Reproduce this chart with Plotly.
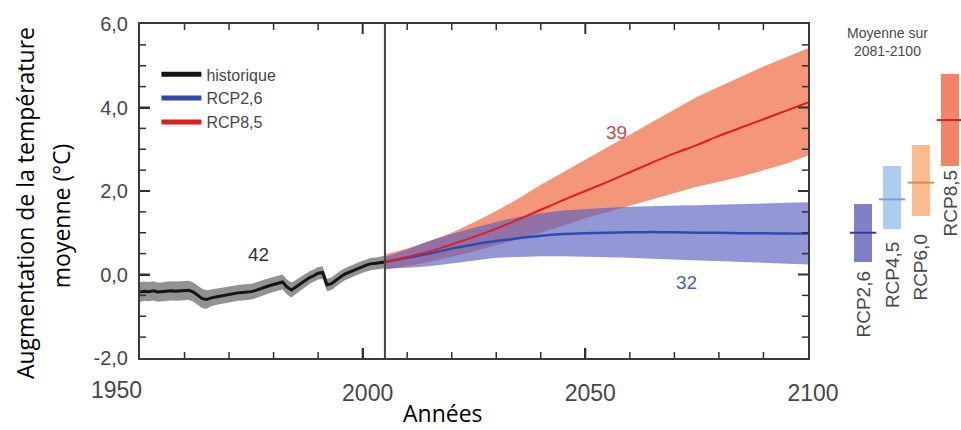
import plotly.graph_objects as go

# ---------------- data ----------------
hist_years = list(range(1950, 2006))
hist_mean = [-0.42, -0.40, -0.41, -0.39, -0.42, -0.41, -0.40, -0.39, -0.40, -0.39,
             -0.39, -0.38, -0.42, -0.50, -0.58, -0.60, -0.56, -0.54, -0.52, -0.49,
             -0.47, -0.46, -0.44, -0.43, -0.42, -0.41, -0.38, -0.34, -0.30, -0.27,
             -0.24, -0.21, -0.18, -0.30, -0.37, -0.30, -0.22, -0.15, -0.08, -0.03,
             0.03, 0.05, -0.25, -0.22, -0.13, -0.06, 0.01, 0.06, 0.10, 0.15,
             0.19, 0.23, 0.26, 0.27, 0.28, 0.30]
hist_hi = [-0.18, -0.17, -0.18, -0.16, -0.19, -0.19, -0.17, -0.16, -0.17, -0.16,
           -0.16, -0.15, -0.19, -0.27, -0.35, -0.38, -0.36, -0.35, -0.33, -0.30,
           -0.28, -0.27, -0.25, -0.24, -0.23, -0.22, -0.19, -0.15, -0.12, -0.09,
           -0.06, -0.03, 0.00, -0.12, -0.19, -0.13, -0.06, 0.01, 0.07, 0.12,
           0.18, 0.20, -0.10, -0.07, 0.02, 0.09, 0.15, 0.20, 0.24, 0.29,
           0.33, 0.37, 0.40, 0.41, 0.43, 0.45]
hist_lo = [-0.66, -0.63, -0.64, -0.62, -0.65, -0.64, -0.63, -0.62, -0.63, -0.62,
           -0.62, -0.61, -0.65, -0.73, -0.81, -0.82, -0.76, -0.73, -0.71, -0.68,
           -0.66, -0.65, -0.63, -0.62, -0.61, -0.60, -0.57, -0.53, -0.48, -0.45,
           -0.42, -0.39, -0.36, -0.48, -0.55, -0.47, -0.38, -0.31, -0.23, -0.18,
           -0.12, -0.10, -0.40, -0.37, -0.28, -0.21, -0.14, -0.09, -0.05, 0.00,
           0.04, 0.08, 0.11, 0.12, 0.14, 0.15]

fut_years = [2005, 2010, 2015, 2020, 2025, 2030, 2035, 2040, 2045, 2050,
             2055, 2060, 2065, 2070, 2075, 2080, 2085, 2090, 2095, 2100]
rcp26_mean = [0.30, 0.40, 0.50, 0.62, 0.72, 0.80, 0.87, 0.93, 0.97, 0.99,
              1.00, 1.01, 1.02, 1.01, 1.00, 1.00, 0.99, 0.99, 0.98, 0.98]
rcp26_hi = [0.42, 0.60, 0.80, 0.97, 1.12, 1.26, 1.38, 1.47, 1.53, 1.57,
            1.60, 1.62, 1.64, 1.65, 1.66, 1.67, 1.68, 1.70, 1.72, 1.73]
rcp26_lo = [0.14, 0.16, 0.20, 0.27, 0.34, 0.40, 0.42, 0.44, 0.44, 0.43,
            0.41, 0.40, 0.38, 0.36, 0.34, 0.32, 0.30, 0.27, 0.25, 0.24]
rcp85_mean = [0.30, 0.42, 0.55, 0.72, 0.90, 1.10, 1.32, 1.55, 1.78, 2.00,
              2.22, 2.45, 2.68, 2.90, 3.10, 3.32, 3.52, 3.72, 3.92, 4.12]
rcp85_hi = [0.48, 0.62, 0.80, 1.00, 1.25, 1.52, 1.82, 2.15, 2.45, 2.75,
            3.05, 3.35, 3.65, 3.95, 4.25, 4.50, 4.75, 4.98, 5.20, 5.42]
rcp85_lo = [0.12, 0.20, 0.30, 0.42, 0.55, 0.70, 0.85, 1.00, 1.17, 1.35,
            1.50, 1.65, 1.80, 1.95, 2.10, 2.22, 2.35, 2.50, 2.65, 2.85]

scen_names = ["RCP2,6", "RCP4,5", "RCP6,0", "RCP8,5"]
scen_mean = [1.0, 1.8, 2.2, 3.7]
scen_lo = [0.3, 1.1, 1.4, 2.6]
scen_hi = [1.7, 2.6, 3.1, 4.8]

model_counts = {"historique": 42, "RCP2,6": 32, "RCP8,5": 39}
base_year = 2005

# axis ranges / tick steps
X_RANGE = [1950, 2100]
Y_RANGE = [-2, 6]
X_MAJOR, X_MINOR = 50, 10
Y_MAJOR, Y_MINOR = 2, 0.5

# tick labels (y uses a French decimal comma and an ASCII minus as in the reference)
y_label_alias = {"\u22122,0": "-2,0"}
x_first_label = "1950"

# ---------------- styles ----------------
TICK_FONT = "Liberation Sans, Arial, sans-serif"
TITLE_FONT = "Open Sans, sans-serif"
GREY_TXT = "#474747"
FRAME = "#3a3a3a"
TICKC = "#303030"

bar_fill = ["rgb(128,128,200)", "rgb(172,204,240)", "rgb(250,188,142)", "rgb(245,132,102)"]
bar_mean_col = ["rgb(60,60,150)", "rgb(120,160,215)", "rgb(220,140,70)", "rgb(210,35,30)"]

fig = go.Figure()

# bands
fig.add_trace(go.Scatter(x=hist_years, y=hist_lo, mode="lines", line=dict(width=0),
                         showlegend=False, hoverinfo="skip"))
fig.add_trace(go.Scatter(x=hist_years, y=hist_hi, mode="lines", line=dict(width=0),
                         fill="tonexty", fillcolor="rgba(110,110,110,0.75)",
                         showlegend=False, hoverinfo="skip"))
fig.add_trace(go.Scatter(x=fut_years, y=rcp85_lo, mode="lines", line=dict(width=0),
                         showlegend=False, hoverinfo="skip"))
fig.add_trace(go.Scatter(x=fut_years, y=rcp85_hi, mode="lines", line=dict(width=0),
                         fill="tonexty", fillcolor="rgba(240,110,70,0.72)",
                         showlegend=False, hoverinfo="skip"))
fig.add_trace(go.Scatter(x=fut_years, y=rcp26_lo, mode="lines", line=dict(width=0),
                         showlegend=False, hoverinfo="skip"))
fig.add_trace(go.Scatter(x=fut_years, y=rcp26_hi, mode="lines", line=dict(width=0),
                         fill="tonexty", fillcolor="rgba(90,95,190,0.65)",
                         showlegend=False, hoverinfo="skip"))

# lines
HIST_COL = "#151515"
R26_COL = "rgb(45,75,175)"
R85_COL = "rgb(225,30,30)"
fig.add_trace(go.Scatter(x=hist_years, y=hist_mean, mode="lines", showlegend=False,
                         line=dict(color=HIST_COL, width=3)))
fig.add_trace(go.Scatter(x=fut_years, y=rcp26_mean, mode="lines", showlegend=False,
                         line=dict(color=R26_COL, width=2.5, shape="spline")))
fig.add_trace(go.Scatter(x=fut_years, y=rcp85_mean, mode="lines", showlegend=False,
                         line=dict(color=R85_COL, width=2, shape="spline")))

# legend entries (thick swatches as in the reference)
for nm, col in [("historique", HIST_COL), ("RCP2,6", R26_COL), ("RCP8,5", R85_COL)]:
    fig.add_trace(go.Scatter(x=[None], y=[None], mode="lines", name=nm,
                             line=dict(color=col, width=5)))

# right panel: 2081-2100 means
fig.add_trace(go.Bar(x=scen_names, y=[h - l for h, l in zip(scen_hi, scen_lo)], base=scen_lo,
                     width=0.65, marker=dict(color=bar_fill, line=dict(width=0)),
                     xaxis="x2", yaxis="y2", showlegend=False, hoverinfo="skip"))
fig.add_trace(go.Scatter(x=scen_names, y=scen_mean, mode="markers",
                         marker=dict(symbol="line-ew", size=19,
                                     line=dict(width=2, color=bar_mean_col)),
                         xaxis="x2", yaxis="y2", showlegend=False, hoverinfo="skip"))

fig.add_vline(x=base_year, line=dict(color="#444444", width=2))

# inside tick marks on all four sides (derived from the axis ranges and steps)
PLOT_W, PLOT_H = 668.0, 334.0
MAJ_LEN, MIN_LEN = 10.0, 6.0
nx = int(round((X_RANGE[1] - X_RANGE[0]) / X_MINOR))
for i in range(1, nx):
    v = X_RANGE[0] + i * X_MINOR
    major = (v - X_RANGE[0]) % X_MAJOR == 0
    f = (MAJ_LEN if major else MIN_LEN) / PLOT_H
    w = 2 if major else 1.5
    for y0, y1 in [(0, f), (1, 1 - f)]:
        fig.add_shape(type="line", xref="x", yref="y domain", x0=v, x1=v, y0=y0, y1=y1,
                      line=dict(color=TICKC, width=w), layer="above")
ny = int(round((Y_RANGE[1] - Y_RANGE[0]) / Y_MINOR))
for i in range(1, ny):
    v = Y_RANGE[0] + i * Y_MINOR
    major = abs(((v - Y_RANGE[0]) / Y_MAJOR) - round((v - Y_RANGE[0]) / Y_MAJOR)) < 1e-9
    f = (MAJ_LEN if major else MIN_LEN) / PLOT_W
    w = 2 if major else 1.5
    for x0, x1 in [(0, f), (1, 1 - f)]:
        fig.add_shape(type="line", xref="x domain", yref="y", x0=x0, x1=x1, y0=v, y1=v,
                      line=dict(color=TICKC, width=w), layer="above")

annotations = []
# first x tick label sits left of its tick in the reference
annotations.append(dict(x=1950, y=-0.0958, xref="x", yref="paper", text=x_first_label,
                        xshift=-24, showarrow=False, xanchor="center", yanchor="middle",
                        font=dict(family=TICK_FONT, size=23, color=GREY_TXT)))
# model counts
annotations.append(dict(x=1976.5, y=0.48, xref="x", yref="y", text=str(model_counts["historique"]),
                        showarrow=False, font=dict(family=TICK_FONT, size=19, color="#333333")))
annotations.append(dict(x=2057.1, y=3.40, xref="x", yref="y", text=str(model_counts["RCP8,5"]),
                        showarrow=False, font=dict(family=TICK_FONT, size=19, color="rgb(205,70,70)")))
annotations.append(dict(x=2072.8, y=-0.19, xref="x", yref="y", text=str(model_counts["RCP2,6"]),
                        showarrow=False, font=dict(family=TICK_FONT, size=19, color="rgb(75,95,170)")))
# scenario labels under bars
label_shift = [-7, -11, -16, -2]
for name, lo, sh in zip(scen_names, scen_lo, label_shift):
    annotations.append(dict(x=name, y=lo, xref="x2", yref="y2", text=name, textangle=-90,
                            showarrow=False, xanchor="center", yanchor="top", yshift=sh,
                            font=dict(family=TICK_FONT, size=19, color=GREY_TXT)))
# right panel title
annotations.append(dict(x=0.911, y=0.946, xref="paper", yref="paper",
                        text="Moyenne sur<br>2081-2100", showarrow=False,
                        xanchor="center", yanchor="middle",
                        font=dict(family=TICK_FONT, size=14, color=GREY_TXT)))
# axis titles
annotations.append(dict(x=-0.140, y=0.464, xref="paper", yref="paper",
                        text="Augmentation de la température", textangle=-90,
                        showarrow=False, xanchor="center", yanchor="middle",
                        font=dict(family=TITLE_FONT, size=23, color="#000000")))
annotations.append(dict(x=-0.096, y=0.425, xref="paper", yref="paper",
                        text="moyenne (°C)", textangle=-90,
                        showarrow=False, xanchor="center", yanchor="middle",
                        font=dict(family=TITLE_FONT, size=23, color="#000000")))
annotations.append(dict(x=0.369, y=-0.166, xref="paper", yref="paper",
                        text="Années", showarrow=False, xanchor="center", yanchor="middle",
                        font=dict(family=TITLE_FONT, size=23, color="#000000")))

fig.update_layout(
    width=961, height=430, autosize=False,
    margin=dict(l=140, r=0, t=24, b=72, pad=0, autoexpand=False),
    paper_bgcolor="white", plot_bgcolor="white",
    separators=",.",
    annotations=annotations,
    legend=dict(x=0.02, y=0.90, xanchor="left", yanchor="top", traceorder="normal",
                bgcolor="rgba(0,0,0,0)", font=dict(family=TICK_FONT, size=16, color=GREY_TXT),
                tracegroupgap=0, itemwidth=40),
    xaxis=dict(domain=[0, 0.8136], range=X_RANGE,
               tickmode="linear", tick0=X_RANGE[0], dtick=X_MAJOR, tickformat="d",
               labelalias={x_first_label: " "},
               ticks="inside", ticklen=10, tickwidth=2, tickcolor=TICKC,
               showline=True, linecolor=FRAME, linewidth=2, mirror=True,
               showgrid=False, zeroline=False,
               tickfont=dict(family=TICK_FONT, size=23, color=GREY_TXT),
               ticklabelstandoff=13, ticklabelshift=5),
    yaxis=dict(range=Y_RANGE, tickmode="linear", tick0=0, dtick=Y_MAJOR, tickformat=".1f",
               labelalias=y_label_alias,
               ticks="inside", ticklen=10, tickwidth=2, tickcolor=TICKC,
               showline=True, linecolor=FRAME, linewidth=2, mirror=True,
               showgrid=False, zeroline=False,
               tickfont=dict(family=TICK_FONT, size=20, color=GREY_TXT),
               ticklabelstandoff=6),
    xaxis2=dict(domain=[0.86, 1.0], range=[-0.586, 3.379], anchor="y2", visible=False,
                type="category"),
    yaxis2=dict(range=Y_RANGE, anchor="x2", visible=False),
    bargap=0,
)

fig.write_html("out.html")
